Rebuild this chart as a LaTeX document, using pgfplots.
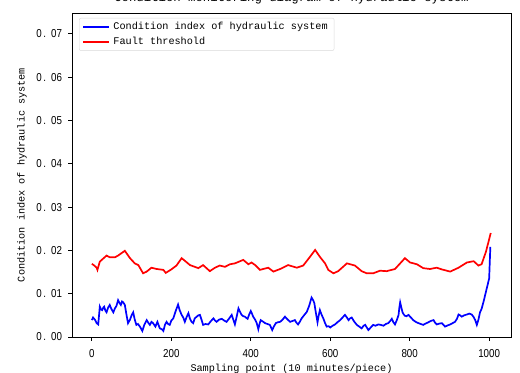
\documentclass[border=0pt]{standalone}
\usepackage{fontspec}
\usepackage{pgfplots}
\pgfplotsset{compat=1.18}
\setmainfont{Liberation Mono}
\newfontfamily\tickfont[FakeStretch=0.85]{Liberation Sans}
\newcommand\labfont{\fontsize{10.2bp}{12bp}\selectfont}
\newcommand\titfont{\fontsize{12.3bp}{14bp}\selectfont}

% condition index of the hydraulic system (blue)
\pgfplotstableread{
x y
0 0.0039
3 0.0045
6 0.0042
9 0.0038
12 0.0032
16 0.0029
20 0.0070
23 0.0064
26 0.0062
29 0.0068
31 0.0070
34 0.0061
37 0.0057
41 0.0068
45 0.0074
49 0.0065
54 0.0057
58 0.0066
62 0.0072
66 0.0085
70 0.0078
73 0.0074
76 0.0082
79 0.0080
83 0.0074
87 0.0052
91 0.0032
96 0.0040
100 0.0050
104 0.0057
108 0.0040
112 0.0028
116 0.0030
121 0.0024
127 0.0014
132 0.0028
138 0.0039
142 0.0033
146 0.0028
150 0.0035
154 0.0032
160 0.0024
165 0.0035
171 0.0020
176 0.0018
180 0.0014
184 0.0028
188 0.0035
192 0.0030
196 0.0028
200 0.0038
205 0.0043
211 0.0060
217 0.0075
221 0.0062
226 0.0051
230 0.0045
234 0.0035
238 0.0045
243 0.0055
247 0.0042
251 0.0035
255 0.0032
259 0.0043
264 0.0047
268 0.0050
272 0.0051
276 0.0040
280 0.0028
286 0.0030
293 0.0029
299 0.0036
306 0.0043
310 0.0038
314 0.0035
320 0.0040
327 0.0042
333 0.0038
339 0.0035
345 0.0042
352 0.0051
356 0.0040
360 0.0029
364 0.0045
369 0.0066
373 0.0058
377 0.0051
381 0.0048
385 0.0047
389 0.0044
392 0.0042
396 0.0052
400 0.0060
403 0.0054
406 0.0047
411 0.0040
415 0.0032
419 0.0018
422 0.0030
425 0.0039
430 0.0036
436 0.0032
442 0.0030
448 0.0028
451 0.0022
454 0.0016
458 0.0024
463 0.0032
468 0.0034
474 0.0035
480 0.0040
486 0.0047
492 0.0041
499 0.0035
505 0.0037
511 0.0039
515 0.0033
519 0.0029
524 0.0036
528 0.0043
534 0.0050
541 0.0058
547 0.0072
553 0.0091
557 0.0085
560 0.0078
564 0.0055
568 0.0034
571 0.0050
574 0.0062
578 0.0052
583 0.0042
587 0.0032
591 0.0024
596 0.0025
600 0.0022
606 0.0026
612 0.0029
618 0.0034
625 0.0039
631 0.0045
637 0.0051
642 0.0045
646 0.0039
650 0.0043
654 0.0045
660 0.0036
667 0.0028
673 0.0024
679 0.0020
684 0.0026
688 0.0028
692 0.0022
696 0.0016
702 0.0022
708 0.0028
714 0.0026
721 0.0029
727 0.0028
734 0.0026
740 0.0030
746 0.0032
751 0.0037
755 0.0042
759 0.0034
763 0.0029
768 0.0040
772 0.0051
774 0.0068
776 0.0080
779 0.0068
782 0.0057
785 0.0052
788 0.0049
792 0.0048
797 0.0051
803 0.0045
809 0.0039
815 0.0035
822 0.0032
828 0.0030
834 0.0028
840 0.0031
847 0.0034
853 0.0037
860 0.0039
864 0.0033
868 0.0029
875 0.0031
881 0.0032
885 0.0028
889 0.0024
896 0.0027
902 0.0029
908 0.0032
914 0.0035
919 0.0042
923 0.0052
927 0.0050
931 0.0047
937 0.0050
944 0.0052
950 0.0054
956 0.0052
961 0.0046
965 0.0039
969 0.0028
973 0.0040
977 0.0057
981 0.0065
986 0.0082
990 0.0097
996 0.0120
1000 0.0135
1003 0.0208
}\indextable

% fault threshold (red)
\pgfplotstableread{
x y
0 0.0169
6 0.0165
12 0.0160
14 0.0155
20 0.0174
37 0.0188
45 0.0184
58 0.0184
66 0.0188
83 0.0199
96 0.0182
108 0.0170
117 0.0166
129 0.0147
138 0.0151
150 0.0160
163 0.0157
180 0.0155
186 0.0148
200 0.0156
213 0.0165
226 0.0182
234 0.0176
247 0.0166
259 0.0162
268 0.0159
280 0.0166
297 0.0152
310 0.0160
322 0.0165
335 0.0162
348 0.0168
360 0.0170
381 0.0178
394 0.0168
402 0.0172
411 0.0166
423 0.0155
444 0.0160
457 0.0151
474 0.0157
494 0.0166
516 0.0160
532 0.0165
549 0.0185
562 0.0201
574 0.0185
587 0.0170
595 0.0155
608 0.0147
620 0.0152
642 0.0170
662 0.0165
679 0.0152
692 0.0147
708 0.0147
725 0.0153
742 0.0152
763 0.0157
776 0.0170
788 0.0182
801 0.0172
818 0.0168
834 0.0159
851 0.0157
868 0.0160
881 0.0156
902 0.0151
923 0.0160
944 0.0172
961 0.0175
973 0.0165
981 0.0168
992 0.0197
1004 0.0240
}\thresholdtable

\begin{document}
\begin{tikzpicture}
\begin{axis}[
  scale only axis,
  width=439bp, height=324bp,
  xmin=-50, xmax=1055,
  ymin=0, ymax=0.0748,
  xtick={0,200,400,600,800,1000},
  ytick={0,0.01,0.02,0.03,0.04,0.05,0.06,0.07},
  scaled y ticks=false,
  /pgf/number format/assume math mode=true,
  /pgf/number format/1000 sep={},
  tick label style={font=\tickfont\fontsize{11.5bp}{13bp}\selectfont},
  xticklabel style={yshift=-5bp},
  yticklabel style={xshift=-3bp,
    /pgf/number format/fixed,
    /pgf/number format/fixed zerofill,
    /pgf/number format/precision=2,
    /pgf/number format/set decimal separator={\hspace{1.5bp}.\hspace{5bp}}},
  tick align=outside,
  xtick pos=bottom, ytick pos=left,
  major tick length=3.5bp,
  every tick/.style={black, line width=0.8bp},
  axis line style={line width=0.8bp},
  title={Condition monitoring diagram of hydraulic system},
  title style={at={(axis description cs:0.5,1)}, anchor=base, yshift=6bp, font=\titfont, inner sep=0pt},
  xlabel={Sampling point (10 minutes/piece)},
  xlabel style={at={(axis description cs:0.5,0)}, anchor=base, yshift=-34bp, font=\labfont, inner sep=0pt},
  ylabel={Condition index of hydraulic system},
  ylabel style={at={(axis description cs:-0.1139,0.5)}, anchor=center, font=\labfont, inner sep=0pt},
  legend cell align=left,
  legend style={at={(axis description cs:0.016,0.985)}, anchor=north west,
    font=\labfont, draw=black!15, rounded corners=2bp, fill=white, fill opacity=0.8, text opacity=1,
    inner xsep=3bp, inner ysep=1.5bp,
    nodes={inner xsep=3.5bp, inner ysep=2bp, text height=8bp, text depth=2.8bp}},
  legend image code/.code={\draw[#1] (0bp,0bp) -- (26bp,0bp);},
]
\addplot[blue, line width=1.7bp] table[x=x, y=y] {\indextable};
\addlegendentry{Condition index of hydraulic system}
\addplot[red, line width=1.7bp] table[x=x, y=y] {\thresholdtable};
\addlegendentry{Fault threshold}
\coordinate (sw) at (rel axis cs:0,0);
\coordinate (ne) at (rel axis cs:1,1);
\end{axis}
\pgfresetboundingbox
\path ([xshift=-72bp,yshift=-36bp]sw) rectangle ([xshift=9bp,yshift=13bp]ne);
\end{tikzpicture}
\end{document}
